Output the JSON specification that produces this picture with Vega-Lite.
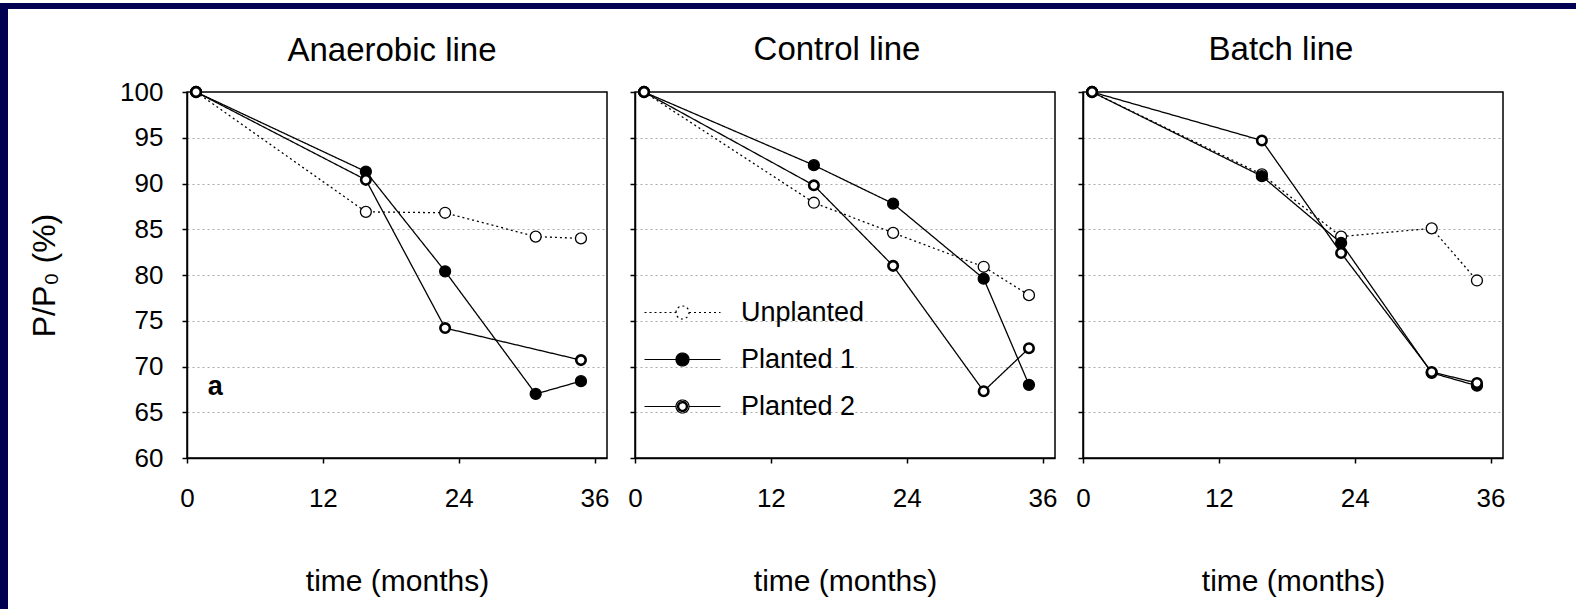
{
  "$schema": "https://vega.github.io/schema/vega-lite/v6.json",
  "padding": 0,
  "background": "white",
  "spacing": 0,
  "config": {
    "font": "Liberation Sans",
    "view": {"stroke": null},
    "axis": {"labelFont": "Liberation Sans", "titleFont": "Liberation Sans", "labelColor": "black", "titleColor": "black", "domainColor": "black", "tickColor": "black", "titleFontWeight": "normal"},
    "title": {"font": "Liberation Sans", "color": "black", "fontWeight": "normal"}
  },
  "datasets": {
    "pts": [
      {"panel": "Anaerobic line", "series": "Unplanted", "month": 0.8, "value": 100},
      {"panel": "Anaerobic line", "series": "Unplanted", "month": 15.8, "value": 86.9},
      {"panel": "Anaerobic line", "series": "Unplanted", "month": 22.8, "value": 86.8},
      {"panel": "Anaerobic line", "series": "Unplanted", "month": 30.8, "value": 84.2},
      {"panel": "Anaerobic line", "series": "Unplanted", "month": 34.8, "value": 84.0},
      {"panel": "Anaerobic line", "series": "Planted 1", "month": 0.8, "value": 100},
      {"panel": "Anaerobic line", "series": "Planted 1", "month": 15.8, "value": 91.3},
      {"panel": "Anaerobic line", "series": "Planted 1", "month": 22.8, "value": 80.4},
      {"panel": "Anaerobic line", "series": "Planted 1", "month": 30.8, "value": 67.0},
      {"panel": "Anaerobic line", "series": "Planted 1", "month": 34.8, "value": 68.4},
      {"panel": "Anaerobic line", "series": "Planted 2", "month": 0.8, "value": 100},
      {"panel": "Anaerobic line", "series": "Planted 2", "month": 15.8, "value": 90.4},
      {"panel": "Anaerobic line", "series": "Planted 2", "month": 22.8, "value": 74.2},
      {"panel": "Anaerobic line", "series": "Planted 2", "month": 34.8, "value": 70.7},
      {"panel": "Control line", "series": "Unplanted", "month": 0.8, "value": 100},
      {"panel": "Control line", "series": "Unplanted", "month": 15.8, "value": 87.9},
      {"panel": "Control line", "series": "Unplanted", "month": 22.8, "value": 84.6},
      {"panel": "Control line", "series": "Unplanted", "month": 30.8, "value": 80.9},
      {"panel": "Control line", "series": "Unplanted", "month": 34.8, "value": 77.8},
      {"panel": "Control line", "series": "Planted 1", "month": 0.8, "value": 100},
      {"panel": "Control line", "series": "Planted 1", "month": 15.8, "value": 92.0},
      {"panel": "Control line", "series": "Planted 1", "month": 22.8, "value": 87.8},
      {"panel": "Control line", "series": "Planted 1", "month": 30.8, "value": 79.6},
      {"panel": "Control line", "series": "Planted 1", "month": 34.8, "value": 68.0},
      {"panel": "Control line", "series": "Planted 2", "month": 0.8, "value": 100},
      {"panel": "Control line", "series": "Planted 2", "month": 15.8, "value": 89.8},
      {"panel": "Control line", "series": "Planted 2", "month": 22.8, "value": 81.0},
      {"panel": "Control line", "series": "Planted 2", "month": 30.8, "value": 67.3},
      {"panel": "Control line", "series": "Planted 2", "month": 34.8, "value": 72.0},
      {"panel": "Batch line", "series": "Unplanted", "month": 0.8, "value": 100},
      {"panel": "Batch line", "series": "Unplanted", "month": 15.8, "value": 91.0},
      {"panel": "Batch line", "series": "Unplanted", "month": 22.8, "value": 84.2},
      {"panel": "Batch line", "series": "Unplanted", "month": 30.8, "value": 85.1},
      {"panel": "Batch line", "series": "Unplanted", "month": 34.8, "value": 79.4},
      {"panel": "Batch line", "series": "Planted 1", "month": 0.8, "value": 100},
      {"panel": "Batch line", "series": "Planted 1", "month": 15.8, "value": 90.8},
      {"panel": "Batch line", "series": "Planted 1", "month": 22.8, "value": 83.5},
      {"panel": "Batch line", "series": "Planted 1", "month": 30.8, "value": 69.3},
      {"panel": "Batch line", "series": "Planted 1", "month": 34.8, "value": 67.9},
      {"panel": "Batch line", "series": "Planted 2", "month": 0.8, "value": 100},
      {"panel": "Batch line", "series": "Planted 2", "month": 15.8, "value": 94.7},
      {"panel": "Batch line", "series": "Planted 2", "month": 22.8, "value": 82.4},
      {"panel": "Batch line", "series": "Planted 2", "month": 30.8, "value": 69.4},
      {"panel": "Batch line", "series": "Planted 2", "month": 34.8, "value": 68.2}
    ]
  },
  "hconcat": [
    {"width": 8, "height": 609, "view": {"fill": "#020050", "stroke": null}, "data": {"values": [{}]}, "mark": "text", "encoding": {"text": {"value": ""}}},
    {
      "spacing": 22,
      "vconcat": [
        {"width": 1568, "height": 6, "view": {"fill": "#020050", "stroke": null}, "data": {"values": [{}]}, "mark": "text", "encoding": {"text": {"value": ""}}},
        {
          "spacing": 18,
          "hconcat": [
            {"width": 1, "height": 10, "view": {"stroke": null}, "data": {"values": [{}]}, "mark": "text", "encoding": {"text": {"value": ""}}},
            {
              "spacing": 28,
              "bounds": "flush",
              "resolve": {"legend": {"fill": "independent", "strokeDash": "independent", "shape": "independent"}},
              "hconcat": [
                {
                  "width": 420, "height": 366,
                  "title": {"text": "Anaerobic line", "fontSize": 33, "offset": -15, "baseline": "alphabetic", "frame": "group", "dx": -5},
                  "view": {"stroke": "black", "strokeWidth": 1.5},
                  "data": {"name": "pts"},
                  "transform": [{"filter": "datum.panel === 'Anaerobic line'"}],
                  "encoding": {
                    "x": {"field": "month", "type": "quantitative", "scale": {"domain": [0, 37.1], "nice": false, "zero": false},
                      "axis": {"values": [0, 12, 24, 36], "title": "time (months)", "titleFontSize": 30, "labelFontSize": 26, "tickSize": 5, "tickWidth": 1.5, "domainWidth": 1.5, "labelPadding": 22, "titlePadding": 55, "grid": false, "labelFlush": false}},
                    "y": {"field": "value", "type": "quantitative", "scale": {"domain": [60, 100], "nice": false, "zero": false},
                      "axis": {"values": [60, 65, 70, 75, 80, 85, 90, 95, 100], "title": "P/P₀ (%)", "titleFontSize": 32, "labelFontSize": 26, "tickSize": 5, "tickWidth": 1.5, "domainWidth": 1.5, "labelPadding": 19, "titlePadding": 58, "grid": true, "gridColor": "#ababab", "gridDash": [2, 3], "gridWidth": 1, "gridOpacity": {"condition": {"test": "datum.value === 60 || datum.value === 100", "value": 0}, "value": 1}}}
                  },
                  "layer": [
                    {"mark": {"type": "line", "color": "black", "strokeWidth": 1.3},
                     "encoding": {"strokeDash": {"field": "series", "type": "nominal", "scale": {"domain": ["Unplanted", "Planted 1", "Planted 2"], "range": [[2, 3], [1, 0], [1, 0]]}, "legend": null}}},
                    {"transform": [{"filter": "datum.series !== 'Planted 2'"}],
                     "mark": {"type": "point", "shape": "circle", "stroke": "black", "strokeWidth": 1.3, "size": 120, "opacity": 1},
                     "encoding": {"fill": {"field": "series", "type": "nominal", "scale": {"domain": ["Unplanted", "Planted 1", "Planted 2"], "range": ["white", "black", "white"]}, "legend": null}}},
                    {"transform": [{"filter": "datum.series === 'Planted 2'"}],
                     "mark": {"type": "point", "shape": "circle", "stroke": "black", "strokeWidth": 2.6, "size": 90, "opacity": 1},
                     "encoding": {"fill": {"field": "series", "type": "nominal", "scale": {"domain": ["Unplanted", "Planted 1", "Planted 2"], "range": ["white", "black", "white"]}, "legend": null}}},
                    {"data": {"values": [{"month": 2.5, "value": 67.8, "label": "a"}]},
                     "mark": {"type": "text", "font": "Liberation Sans", "fontWeight": "bold", "fontSize": 27, "align": "center", "baseline": "middle", "color": "black"},
                     "encoding": {"text": {"field": "label", "type": "nominal"}}}
                  ]
                },
                {
                  "width": 420, "height": 366,
                  "title": {"text": "Control line", "fontSize": 33, "offset": -11, "baseline": "alphabetic", "frame": "group", "dx": -8},
                  "view": {"stroke": "black", "strokeWidth": 1.5},
                  "data": {"name": "pts"},
                  "transform": [{"filter": "datum.panel === 'Control line'"}],
                  "encoding": {
                    "x": {"field": "month", "type": "quantitative", "scale": {"domain": [0, 37.1], "nice": false, "zero": false},
                      "axis": {"values": [0, 12, 24, 36], "title": "time (months)", "titleFontSize": 30, "labelFontSize": 26, "tickSize": 5, "tickWidth": 1.5, "domainWidth": 1.5, "labelPadding": 22, "titlePadding": 55, "grid": false, "labelFlush": false}},
                    "y": {"field": "value", "type": "quantitative", "scale": {"domain": [60, 100], "nice": false, "zero": false},
                      "axis": {"values": [60, 65, 70, 75, 80, 85, 90, 95, 100], "title": null, "labels": false, "tickSize": 5, "tickWidth": 1.5, "domainWidth": 1.5, "grid": true, "gridColor": "#ababab", "gridDash": [2, 3], "gridWidth": 1, "gridOpacity": {"condition": {"test": "datum.value === 60 || datum.value === 100", "value": 0}, "value": 1}}}
                  },
                  "layer": [
                    {"mark": {"type": "line", "color": "black", "strokeWidth": 1.3},
                     "encoding": {"strokeDash": {"field": "series", "type": "nominal", "scale": {"domain": ["Unplanted", "Planted 1", "Planted 2"], "range": [[2, 3], [1, 0], [1, 0]]},
                       "legend": {"orient": "none", "legendX": 34, "legendY": 207, "title": null, "labelFontSize": 27, "labelFont": "Liberation Sans", "labelColor": "black", "symbolSize": 400, "rowPadding": 19, "labelOffset": 45, "padding": 0, "symbolStrokeColor": "black", "symbolStrokeWidth": 1.2, "labelLimit": 300}}}},
                    {"transform": [{"filter": "datum.series !== 'Planted 2'"}],
                     "mark": {"type": "point", "shape": "circle", "stroke": "black", "strokeWidth": 1.3, "size": 120, "opacity": 1},
                     "encoding": {"fill": {"field": "series", "type": "nominal", "scale": {"domain": ["Unplanted", "Planted 1", "Planted 2"], "range": ["white", "black", "white"]},
                       "legend": {"orient": "none", "legendX": 34, "legendY": 207, "title": null, "labelFontSize": 27, "labelFont": "Liberation Sans", "labelColor": "black", "symbolSize": 400, "rowPadding": 19, "labelOffset": 45, "padding": 0, "symbolStrokeColor": "black", "symbolStrokeWidth": 1.2, "labelLimit": 300}}}},
                    {"transform": [{"filter": "datum.series === 'Planted 2'"}],
                     "mark": {"type": "point", "shape": "circle", "stroke": "black", "strokeWidth": 2.6, "size": 90, "opacity": 1},
                     "encoding": {"fill": {"field": "series", "type": "nominal", "scale": {"domain": ["Unplanted", "Planted 1", "Planted 2"], "range": ["white", "black", "white"]},
                       "legend": {"orient": "none", "legendX": 34, "legendY": 207, "title": null, "labelFontSize": 27, "labelFont": "Liberation Sans", "labelColor": "black", "symbolSize": 400, "rowPadding": 19, "labelOffset": 45, "padding": 0, "symbolStrokeColor": "black", "symbolStrokeWidth": 1.2, "labelLimit": 300}}}},
                    {"transform": [{"filter": "false"}],
                     "mark": {"type": "point", "stroke": "black", "strokeWidth": 1.2, "opacity": 1},
                     "encoding": {
                       "shape": {"field": "series", "type": "nominal", "scale": {"domain": ["Unplanted", "Planted 1", "Planted 2"], "range": [
                         "M-3.8,0H-0.65M0.65,0H3.8M-0.65,0A0.65,0.65,0,1,1,0.65,0A0.65,0.65,0,1,1,-0.65,0Z",
                         "M-3.8,0H-0.65M0.65,0H3.8M-0.65,0A0.65,0.65,0,1,1,0.65,0A0.65,0.65,0,1,1,-0.65,0Z",
                         "M-3.8,0H-0.65M0.65,0H3.8M-0.65,0A0.65,0.65,0,1,1,0.65,0A0.65,0.65,0,1,1,-0.65,0ZM-0.5,0A0.5,0.5,0,1,1,0.5,0A0.5,0.5,0,1,1,-0.5,0ZM-0.38,0A0.38,0.38,0,1,1,0.38,0A0.38,0.38,0,1,1,-0.38,0Z"]},
                         "legend": {"orient": "none", "legendX": 34, "legendY": 207, "title": null, "labelFontSize": 27, "labelFont": "Liberation Sans", "labelColor": "black", "symbolSize": 400, "rowPadding": 19, "labelOffset": 45, "padding": 0, "symbolStrokeColor": "black", "symbolStrokeWidth": 1.2, "labelLimit": 300}},
                       "fill": {"field": "series", "type": "nominal", "scale": {"domain": ["Unplanted", "Planted 1", "Planted 2"], "range": ["white", "black", "white"]},
                         "legend": {"orient": "none", "legendX": 34, "legendY": 207, "title": null, "labelFontSize": 27, "labelFont": "Liberation Sans", "labelColor": "black", "symbolSize": 400, "rowPadding": 19, "labelOffset": 45, "padding": 0, "symbolStrokeColor": "black", "symbolStrokeWidth": 1.2, "labelLimit": 300}}
                     }}
                  ]
                },
                {
                  "width": 420, "height": 366,
                  "title": {"text": "Batch line", "fontSize": 33, "offset": -11, "baseline": "alphabetic", "frame": "group", "dx": -12},
                  "view": {"stroke": "black", "strokeWidth": 1.5},
                  "data": {"name": "pts"},
                  "transform": [{"filter": "datum.panel === 'Batch line'"}],
                  "encoding": {
                    "x": {"field": "month", "type": "quantitative", "scale": {"domain": [0, 37.1], "nice": false, "zero": false},
                      "axis": {"values": [0, 12, 24, 36], "title": "time (months)", "titleFontSize": 30, "labelFontSize": 26, "tickSize": 5, "tickWidth": 1.5, "domainWidth": 1.5, "labelPadding": 22, "titlePadding": 55, "grid": false, "labelFlush": false}},
                    "y": {"field": "value", "type": "quantitative", "scale": {"domain": [60, 100], "nice": false, "zero": false},
                      "axis": {"values": [60, 65, 70, 75, 80, 85, 90, 95, 100], "title": null, "labels": false, "tickSize": 5, "tickWidth": 1.5, "domainWidth": 1.5, "grid": true, "gridColor": "#ababab", "gridDash": [2, 3], "gridWidth": 1, "gridOpacity": {"condition": {"test": "datum.value === 60 || datum.value === 100", "value": 0}, "value": 1}}}
                  },
                  "layer": [
                    {"mark": {"type": "line", "color": "black", "strokeWidth": 1.3},
                     "encoding": {"strokeDash": {"field": "series", "type": "nominal", "scale": {"domain": ["Unplanted", "Planted 1", "Planted 2"], "range": [[2, 3], [1, 0], [1, 0]]}, "legend": null}}},
                    {"transform": [{"filter": "datum.series !== 'Planted 2'"}],
                     "mark": {"type": "point", "shape": "circle", "stroke": "black", "strokeWidth": 1.3, "size": 120, "opacity": 1},
                     "encoding": {"fill": {"field": "series", "type": "nominal", "scale": {"domain": ["Unplanted", "Planted 1", "Planted 2"], "range": ["white", "black", "white"]}, "legend": null}}},
                    {"transform": [{"filter": "datum.series === 'Planted 2'"}],
                     "mark": {"type": "point", "shape": "circle", "stroke": "black", "strokeWidth": 2.6, "size": 90, "opacity": 1},
                     "encoding": {"fill": {"field": "series", "type": "nominal", "scale": {"domain": ["Unplanted", "Planted 1", "Planted 2"], "range": ["white", "black", "white"]}, "legend": null}}}
                  ]
                }
              ]
            }
          ]
        }
      ]
    }
  ]
}
